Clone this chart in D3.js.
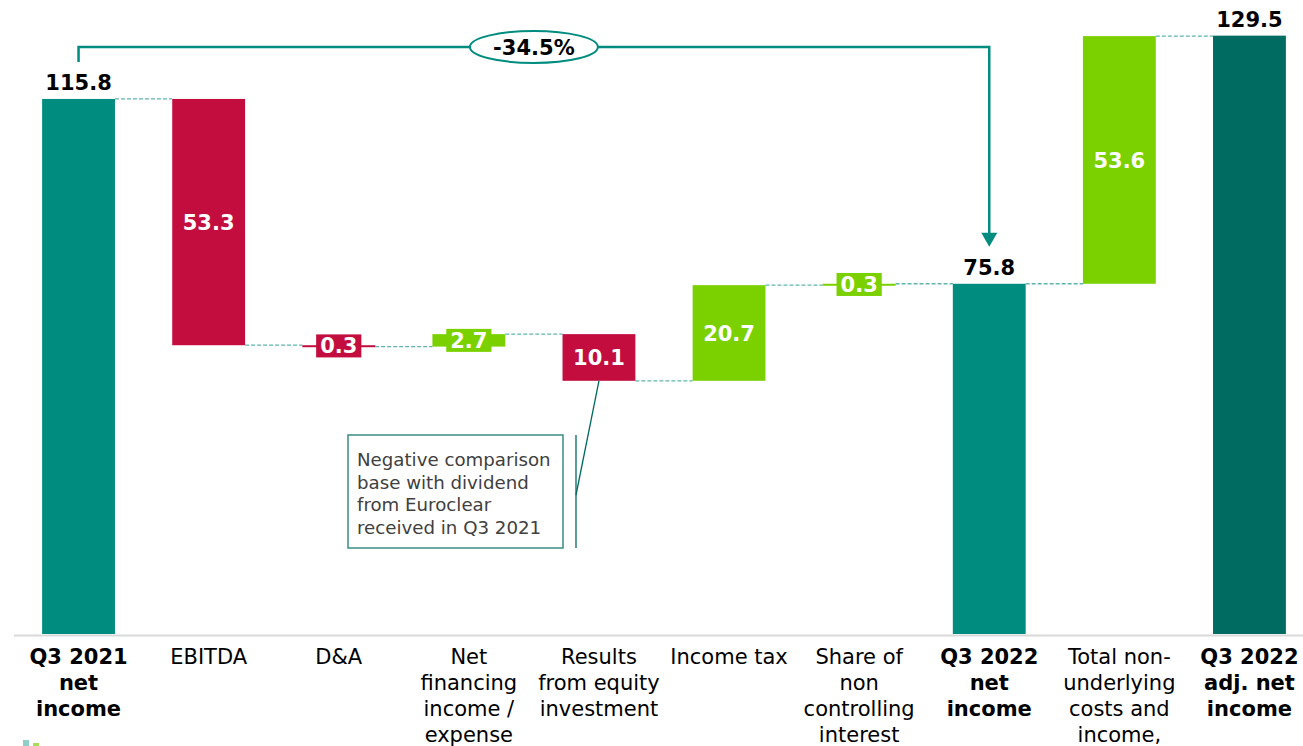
<!DOCTYPE html>
<html>
<head>
<meta charset="utf-8">
<script src="https://cdn.jsdelivr.net/npm/d3@7"></script>
<style>
  body { margin: 0; background: #fff; }
  svg { display: block; font-family: "DejaVu Sans", Verdana, sans-serif; }
</style>
</head>
<body>
<script>
// waterfall: Q3 2021 -> Q3 2022 net income
var categories = ["q321", "ebitda", "da", "netfin", "equity", "tax", "nci", "q322", "nonund", "q322adj"];
var tickLines = [
    ["Q3 2021", "net", "income"],
    ["EBITDA"],
    ["D&A"],
    ["Net", "financing", "income /", "expense"],
    ["Results", "from equity", "investment"],
    ["Income tax"],
    ["Share of", "non", "controlling", "interest"],
    ["Q3 2022", "net", "income"],
    ["Total non-", "underlying", "costs and", "income,"],
    ["Q3 2022", "adj. net", "income"]
];
var values = [115.8, -53.3, -0.3, 2.7, -10.1, 20.7, 0.3, 75.8, 53.6, 129.5];
var kinds = ["total", "delta", "delta", "delta", "delta", "delta", "delta", "total", "delta", "final"];
var changeLabel = "-34.5%";
var noteLines = ["Negative comparison", "base with dividend", "from Euroclear", "received in Q3 2021"];

var width = 1303, height = 746;
var colTeal = "#008c7e", colDark = "#006b61", colRed = "#c30d3f", colGreen = "#7bd100";

var svg = d3.select("body").append("svg")
    .attr("width", width)
    .attr("height", height);

var x = d3.scaleBand()
    .domain(categories)
    .range([13.5, 1314.5])
    .paddingInner(0.44)
    .paddingOuter(0.22);
var y = d3.scaleLinear()
    .domain([0, 137])
    .range([634, 1]);

// running totals
var run = 0;
var data = categories.map(function(c, i) {
    var v = values[i], d = { key: c, value: v, kind: kinds[i] };
    if (kinds[i] == "delta") {
        d.start = run; d.end = run + v;
    } else {
        d.start = 0; d.end = v;
    }
    run = d.end;
    d.color = kinds[i] == "total" ? colTeal : kinds[i] == "final" ? colDark : (v < 0 ? colRed : colGreen);
    return d;
});

// connectors
svg.selectAll(".conn")
    .data(data.slice(0, -1))
    .enter().append("line")
    .attr("x1", function(d) { return x(d.key) + x.bandwidth(); })
    .attr("x2", function(d, i) { return x(categories[i + 1]); })
    .attr("y1", function(d) { return y(d.end); })
    .attr("y2", function(d) { return y(d.end); })
    .attr("stroke", "#5fb5ab")
    .attr("stroke-width", 1.3)
    .attr("stroke-dasharray", "4,2");

// bars
svg.selectAll(".bar")
    .data(data)
    .enter().append("rect")
    .attr("x", function(d) { return x(d.key); })
    .attr("width", x.bandwidth())
    .attr("y", function(d) { return y(Math.max(d.start, d.end)); })
    .attr("height", function(d) { return Math.max(2, Math.abs(y(d.start) - y(d.end))); })
    .attr("fill", function(d) { return d.color; });

// axis
var axis = svg.append("g")
    .attr("transform", "translate(0," + 635 + ")")
    .call(d3.axisBottom(x).tickSize(0).tickFormat(""));
axis.select(".domain").attr("stroke", "#d9d9d9").attr("stroke-width", 2);

var ticks = svg.selectAll(".tick-label")
    .data(data)
    .enter().append("text")
    .attr("text-anchor", "middle")
    .attr("font-size", 21)
    .attr("font-weight", function(d) { return d.kind == "delta" ? "normal" : "bold"; })
    .attr("fill", "#000");
ticks.each(function(d, i) {
    var t = d3.select(this);
    tickLines[i].forEach(function(line, j) {
        t.append("tspan")
            .attr("x", x(d.key) + x.bandwidth() / 2)
            .attr("y", 664 + j * 26)
            .text(line);
    });
});

// value labels
data.forEach(function(d) {
    var cx = x(d.key) + x.bandwidth() / 2;
    var txt = d.kind == "delta" ? Math.abs(d.value).toFixed(1) : d.value.toFixed(1);
    if (d.kind != "delta") {
        svg.append("text")
            .attr("x", cx).attr("y", y(d.end) - 9)
            .attr("text-anchor", "middle")
            .attr("font-size", 21).attr("font-weight", "bold")
            .attr("fill", "#000")
            .text(txt);
        return;
    }
    var cy = (y(d.start) + y(d.end)) / 2;
    if (Math.abs(d.value) < 3) {
        var box = svg.append("rect").attr("fill", d.color);
        var t = svg.append("text")
            .attr("x", cx).attr("y", cy).attr("dy", "0.36em")
            .attr("text-anchor", "middle")
            .attr("font-size", 21).attr("font-weight", "bold")
            .attr("fill", "#fff")
            .text(txt);
        var w = t.node().getComputedTextLength() + 8;
        box.attr("x", cx - w / 2).attr("y", cy - 11.5).attr("width", w).attr("height", 23);
    } else {
        svg.append("text")
            .attr("x", cx).attr("y", cy).attr("dy", "0.36em")
            .attr("text-anchor", "middle")
            .attr("font-size", 21).attr("font-weight", "bold")
            .attr("fill", "#fff")
            .text(txt);
    }
});

// change bracket
var x0 = x(categories[0]) + x.bandwidth() / 2,
    x1 = x("q322") + x.bandwidth() / 2,
    topY = y(values[0]) - 52,
    tipY = y(values[7]) - 37;
svg.append("path")
    .attr("d", "M" + x0 + "," + (y(values[0]) - 37) + "V" + topY + "H" + x1 + "V" + (tipY - 12))
    .attr("fill", "none")
    .attr("stroke", colTeal)
    .attr("stroke-width", 2.5);
svg.append("path")
    .attr("d", "M" + (x1 - 8) + "," + (tipY - 14) + "L" + (x1 + 8) + "," + (tipY - 14) + "L" + x1 + "," + tipY + "Z")
    .attr("fill", colTeal);
var mx = (x0 + x1) / 2;
svg.append("ellipse")
    .attr("cx", mx).attr("cy", topY)
    .attr("rx", 64).attr("ry", 16)
    .attr("fill", "#fff")
    .attr("stroke", colTeal)
    .attr("stroke-width", 2);
svg.append("text")
    .attr("x", mx).attr("y", topY).attr("dy", "0.36em")
    .attr("text-anchor", "middle")
    .attr("font-size", 21).attr("font-weight", "bold")
    .text(changeLabel);

// annotation
var eq = data[4];
svg.append("line")
    .attr("x1", x(eq.key) + x.bandwidth() / 2).attr("y1", y(eq.end))
    .attr("x2", 576).attr("y2", 495)
    .attr("stroke", "#00695f").attr("stroke-width", 1.3);
svg.append("line")
    .attr("x1", 576).attr("x2", 576).attr("y1", 435).attr("y2", 548)
    .attr("stroke", "#00695f").attr("stroke-width", 1.3);
svg.append("rect")
    .attr("x", 348).attr("y", 435).attr("width", 215).attr("height", 113)
    .attr("fill", "#fff")
    .attr("stroke", "#3d8c85").attr("stroke-width", 1.5);
svg.append("text")
    .attr("font-size", 18.2)
    .attr("fill", "#404040")
    .selectAll("tspan")
    .data(noteLines)
    .enter().append("tspan")
    .attr("x", 357)
    .attr("y", function(d, i) { return 466 + i * 22.7; })
    .text(function(d) { return d; });

// cut-off footer marks
svg.append("rect").attr("x", 23).attr("y", 740).attr("width", 6).attr("height", 6).attr("fill", "#8fcfc7");
svg.append("rect").attr("x", 33).attr("y", 743).attr("width", 6).attr("height", 3).attr("fill", "#a6de5a");
</script>
</body>
</html>
